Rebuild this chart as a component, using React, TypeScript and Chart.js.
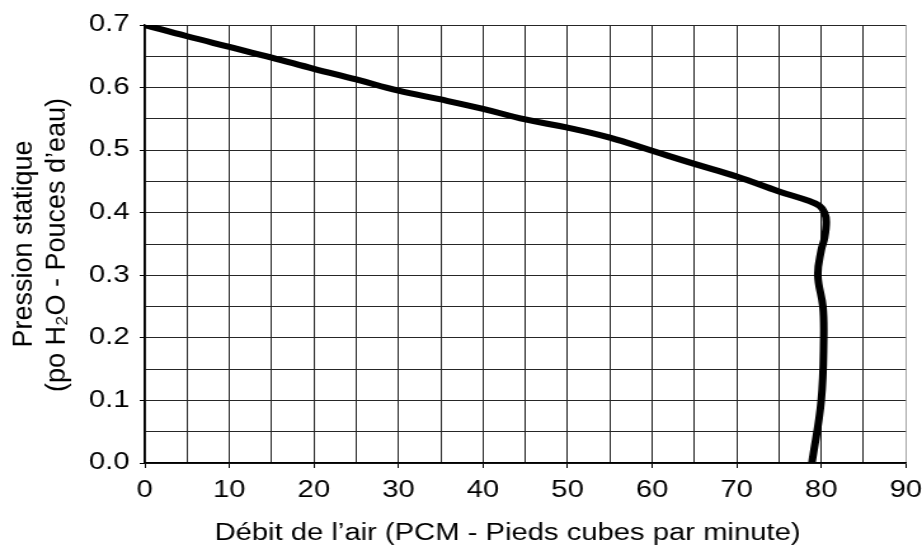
import React, { useEffect, useRef } from "react";
import { Chart, registerables } from "chart.js";

Chart.register(...registerables);

// Airflow (CFM) and static pressure (in. H2O)
const flowCfm = [0, 5, 10, 15, 20, 25, 30, 35, 40, 45, 50, 55, 60, 65, 70, 75, 78.5, 79.8, 80.4, 80.6, 80.4, 80.0, 79.6, 80.2, 80.3, 80.0, 78.9];
const staticPressure = [0.70, 0.682, 0.665, 0.648, 0.63, 0.613, 0.595, 0.581, 0.566, 0.549, 0.536, 0.52, 0.499, 0.478, 0.458, 0.434, 0.419, 0.411, 0.40, 0.385, 0.36, 0.34, 0.30, 0.25, 0.20, 0.10, 0.0];

const xTitle = "Débit de l’air (PCM - Pieds cubes par minute)";
const yTitle = ["Pression statique", "(po H₂O - Pouces d’eau)"];

const LOGICAL_W = 726;
const H = 548;
const S = 922 / LOGICAL_W;
const FONT = "'Liberation Sans', Arial, Helvetica, sans-serif";

const titlePlugin = {
  id: "axisTitles",
  afterDraw(chart: any) {
    const ctx = chart.ctx as CanvasRenderingContext2D;
    const area = chart.chartArea;
    // x title
    ctx.save();
    ctx.font = `23px ${FONT}`;
    ctx.fillStyle = "#000";
    ctx.textAlign = "center";
    ctx.textBaseline = "alphabetic";
    ctx.fillText(xTitle, (area.left + area.right) / 2 - 14, 540);
    ctx.restore();
    // y title (two lines, rotated, drawn without the horizontal stretch)
    const baselines = [31.7, 65];
    const cy = (area.top + area.bottom) / 2;
    yTitle.forEach((line, i) => {
      ctx.save();
      ctx.translate(baselines[i] / S, cy + i);
      ctx.scale(1 / S, 1);
      ctx.rotate(-Math.PI / 2);
      ctx.font = `27px ${FONT}`;
      ctx.fillStyle = "#000";
      ctx.textAlign = "center";
      ctx.textBaseline = "alphabetic";
      ctx.fillText(line, 0, 0);
      ctx.restore();
    });
  },
};

export default function App() {
  const ref = useRef<HTMLCanvasElement>(null);

  useEffect(() => {
    document.body.style.margin = "0";
    const points = flowCfm.map((x, i) => ({ x, y: staticPressure[i] }));
    const chart = new Chart(ref.current!, {
      type: "scatter",
      data: {
        datasets: [
          {
            data: points,
            showLine: true,
            pointRadius: 0,
            borderColor: "#000",
            borderWidth: 6,
            tension: 0.4,
            borderJoinStyle: "round",
          },
        ],
      },
      plugins: [titlePlugin],
      options: {
        animation: false,
        responsive: true,
        maintainAspectRatio: false,
        layout: { padding: { top: 25, right: 0, left: 0, bottom: 0 } },
        plugins: { legend: { display: false }, tooltip: { enabled: false } },
        scales: {
          x: {
            type: "linear",
            min: 0,
            max: 90,
            ticks: {
              stepSize: 5,
              autoSkip: false,
              maxRotation: 0,
              padding: 0,
              color: "#000",
              font: { family: FONT, size: 23, lineHeight: 1.95 },
              callback: (v: any) => (Math.round(Number(v)) % 10 === 0 ? String(v) : ""),
            },
            grid: {
              color: (ctx: any) => (ctx.tick && ctx.tick.value === 90 ? "#a8a8a8" : "#262626"),
              lineWidth: 1,
              tickLength: 5,
              tickColor: (ctx: any) => (ctx.tick && Math.round(ctx.tick.value) % 10 === 0 ? "#000" : "rgba(0,0,0,0)"),
            },
            border: { color: "#000", width: 1.5 },
            title: { display: false },
            afterFit: (s: any) => {
              s.height = 85;
            },
          },
          y: {
            type: "linear",
            min: 0,
            max: 0.7,
            ticks: {
              stepSize: 0.05,
              autoSkip: false,
              padding: 8,
              color: "#000",
              font: { family: FONT, size: 23 },
              callback: (v: any) => {
                const k = Math.round(Number(v) * 100);
                return k % 10 === 0 ? (k / 100).toFixed(1) : "";
              },
            },
            grid: {
              color: "#262626",
              lineWidth: 1,
              tickLength: 4,
              tickColor: (ctx: any) => (ctx.tick && Math.round(ctx.tick.value * 100) % 10 === 0 ? "#000" : "rgba(0,0,0,0)"),
            },
            border: { color: "#000", width: 1.5 },
            title: { display: false },
            afterFit: (s: any) => {
              s.width = 114;
            },
          },
        },
      },
    });
    return () => chart.destroy();
  }, []);

  return (
    <div
      style={{
        position: "absolute",
        left: 0,
        top: 0,
        width: LOGICAL_W,
        height: H,
        transform: `scaleX(${S})`,
        transformOrigin: "0 0",
      }}
    >
      <canvas ref={ref} />
    </div>
  );
}
